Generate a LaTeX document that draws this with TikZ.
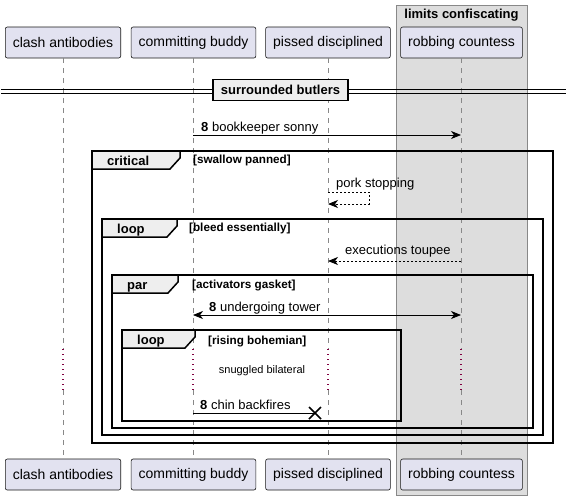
\documentclass[tikz,border=0pt]{standalone}
\usepackage{fontspec}
\setmainfont{Liberation Sans}
\usetikzlibrary{arrows.meta,calc}
\definecolor{partfill}{HTML}{E2E2F0}
\definecolor{partline}{HTML}{181818}
\definecolor{boxfill}{HTML}{DDDDDD}
\definecolor{boxline}{HTML}{888888}
\definecolor{tabfill}{HTML}{EEEEEE}
\definecolor{delayred}{HTML}{800040}
\definecolor{lifegray}{HTML}{888888}
\begin{document}
\begin{tikzpicture}[x=1pt,y=-1pt,
  participant/.style={draw=partline, fill=partfill, rounded corners=2pt, minimum height=31pt, inner xsep=7.5pt, font=\fontsize{14}{16}\selectfont, line width=0.6pt},
  lifeline/.style={draw=lifegray, dash pattern=on 5pt off 5pt, line width=0.7pt},
  delayline/.style={draw=delayred, dash pattern=on 1.3pt off 3.7pt, line width=1.1pt},
  framebox/.style={draw=black, line width=1.5pt},
  tabbox/.style={fill=tabfill, draw=black, line width=1.5pt, line join=miter},
  tablabel/.style={anchor=base west, inner sep=0pt, font=\fontsize{13}{15}\selectfont\bfseries},
  condlabel/.style={anchor=base west, inner sep=0pt, font=\fontsize{11.7}{13}\selectfont\bfseries},
  msglabel/.style={anchor=base west, inner sep=0pt, font=\fontsize{13}{15}\selectfont},
  msg/.style={draw=black, line width=0.8pt},
  reply/.style={draw=black, line width=0.8pt, dash pattern=on 2pt off 2pt},
  tip/.style={-{Stealth[length=10pt,width=8pt,inset=3pt]}},
  bitip/.style={{Stealth[length=10pt,width=8pt,inset=3pt]}-{Stealth[length=10pt,width=8pt,inset=3pt]}},
]
\useasboundingbox (0,0) rectangle (569,499);

% grey participant box
\draw[fill=boxfill, draw=boxline, line width=0.7pt] (396,5) rectangle (527,495);
\node[font=\fontsize{13}{15}\selectfont\bfseries] (boxtitle) at (461.5,15) {limits confiscating};

% participants
\node[participant] (tA) at (63,42.5) {clash antibodies};
\node[participant] (tB) at (193.5,42.5) {committing buddy};
\node[participant] (tC) at (328,42.5) {pissed disciplined};
\node[participant] (tD) at (461.5,42.5) {robbing countess};
\node[participant] (bA) at (63,474.5) {clash antibodies};
\node[participant] (bB) at (193.5,474.5) {committing buddy};
\node[participant] (bC) at (328,474.5) {pissed disciplined};
\node[participant] (bD) at (461.5,474.5) {robbing countess};

% lifelines with delay
\foreach \p/\x in {A/63,B/193,C/328,D/461}{
  \coordinate (d1\p) at (\x,349);
  \coordinate (d2\p) at (\x,390);
  \draw[lifeline] (\x,58) -- (d1\p);
  \draw[delayline] (d1\p) -- (d2\p);
  \draw[lifeline] (d2\p) -- (\x,459);
}

% divider
\draw[line width=1pt] (1,89) -- (566,89);
\draw[line width=1pt] (1,93) -- (566,93);
\node[draw=black, line width=1.5pt, fill=tabfill, minimum width=135pt, minimum height=21pt, inner sep=0pt, font=\fontsize{13}{15}\selectfont\bfseries] (div) at (280.5,90) {surrounded butlers};

% message 1
\coordinate (m1s) at (193,135);
\coordinate (m1e) at (461,135);
\draw[msg, tip] (m1s) -- (m1e);
\node[msglabel] (m1l) at (201,131) {\textbf{8} bookkeeper sonny};

% critical frame
\draw[framebox] (92,151) rectangle (553,443);
\draw[tabbox] (92,151) -- (180,151) -- (180,158) -- (170,169) -- (92,169) -- cycle;
\node[tablabel] (critl) at (107,165) {critical};
\node[condlabel] (critc) at (193,163) {[swallow panned]};

% pork stopping
\coordinate (p1) at (328,192);
\coordinate (p2) at (369,192);
\coordinate (p3) at (369,204);
\coordinate (p4) at (328,204);
\draw[reply, tip] (p1) -- (p2) -- (p3) -- (p4);
\node[msglabel] (pl) at (336,187) {pork stopping};

% loop frame
\draw[framebox] (102,219) rectangle (543,435);
\draw[tabbox] (102,219) -- (177,219) -- (177,226) -- (167,237) -- (102,237) -- cycle;
\node[tablabel] (loopl) at (117,233) {loop};
\node[condlabel] (loopc) at (189,231) {[bleed essentially]};

% executions toupee
\coordinate (e1) at (461,261);
\coordinate (e2) at (328,261);
\draw[reply, tip] (e1) -- (e2);
\node[msglabel] (el) at (345,254) {executions toupee};

% par frame
\draw[framebox] (112,275) rectangle (533,428);
\draw[tabbox] (112,275) -- (178,275) -- (178,282) -- (168,293) -- (112,293) -- cycle;
\node[tablabel] (parl) at (127,289) {par};
\node[condlabel] (parc) at (192,288) {[activators gasket]};

% undergoing tower
\coordinate (u1) at (193,315);
\coordinate (u2) at (461,315);
\draw[msg, bitip] (u1) -- (u2);
\node[msglabel] (ul) at (209,311) {\textbf{8} undergoing tower};

% inner loop frame
\draw[framebox] (122,330) rectangle (401,421);
\draw[tabbox] (122,330) -- (195,330) -- (195,337) -- (185,348) -- (122,348) -- cycle;
\node[tablabel] (iloopl) at (137,344) {loop};
\node[condlabel] (iloopc) at (208,344) {[rising bohemian]};

% delay text
\node[font=\fontsize{11}{13}\selectfont] (delay) at (262,371) {snuggled bilateral};

% chin backfires
\coordinate (c1) at (193,413);
\coordinate (c2) at (315,413);
\draw[msg] (c1) -- (c2);
\draw[line width=1.5pt] ($(c2)+(-6,-6)$) -- ($(c2)+(6,6)$);
\draw[line width=1.5pt] ($(c2)+(-6,6)$) -- ($(c2)+(6,-6)$);
\node[msglabel] (cl) at (200,409) {\textbf{8} chin backfires};
\end{tikzpicture}
\end{document}
